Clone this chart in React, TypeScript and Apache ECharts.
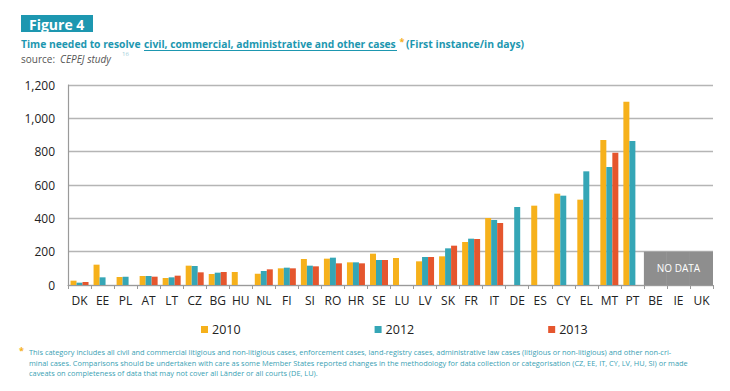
import React, { useEffect, useRef } from "react";
import * as echarts from "echarts";

const categories = ["DK","EE","PL","AT","LT","CZ","BG","HU","NL","FI","SI","RO","HR","SE","LU","LV","SK","FR","IT","DE","ES","CY","EL","MT","PT","BE","IE","UK"];
const v2010 = [26,122,48,54,42,116,66,78,68,100,156,158,136,188,162,142,172,258,402,null,476,548,512,870,1100,null,null,null];
const v2012 = [14,46,50,54,46,114,74,null,84,104,116,164,136,150,null,168,220,278,390,468,null,536,682,708,864,null,null,null];
const v2013 = [18,null,null,50,56,76,78,null,94,100,112,130,130,150,null,168,236,276,372,null,null,null,null,794,null,null,null,null];
const noDataCountries = ["BE","IE","UK"];
const noDataHeight = 200;
const yTicks = { min: 0, max: 1200, interval: 200 };

const footnoteLines = [
  "This category includes all civil and commercial litigious and non-litigious cases, enforcement cases, land-registry cases, administrative law cases (litigious or non-litigious) and other non-cri-",
  "minal cases. Comparisons should be undertaken with care as some Member States reported changes in the methodology for data collection or categorisation (CZ, EE, IT, CY, LV, HU, SI) or made",
  "caveats on completeness of data that may not cover all Länder or all courts (DE, LU).",
];

const YELLOW = "#f6b11b";
const TEAL = "#35a6b6";
const RED = "#e5562e";
const HEAD = "#1d97b0";
const FONT = "'Open Sans', 'DejaVu Sans', sans-serif";

export default function App() {
  const ref = useRef<HTMLDivElement>(null);
  useEffect(() => {
    if (!ref.current) return;
    const chart = echarts.init(ref.current, undefined, { renderer: "svg" });
    const midNo = noDataCountries[Math.floor(noDataCountries.length / 2)];
    const noData = categories.map((c) =>
      noDataCountries.includes(c)
        ? c === midNo
          ? { value: noDataHeight, label: { show: true, position: "inside", formatter: "NO DATA", color: "#fff", fontSize: 10, fontFamily: FONT } }
          : noDataHeight
        : null
    );
    const barCommon = { type: "bar", barWidth: 6, barGap: "0%", xAxisIndex: 0 };
    chart.setOption({
      animation: false,
      textStyle: { fontFamily: FONT },
      grid: { left: 68, right: 17, top: 85, bottom: 106, containLabel: false },
      legend: {
        data: ["2010", "2012", "2013"],
        left: 196,
        top: 318,
        itemWidth: 7,
        itemHeight: 7,
        itemGap: 134,
        icon: "rect",
        textStyle: { fontSize: 12.5, color: "#222", fontFamily: FONT, padding: [0, 0, 0, -1] },
      },
      xAxis: [
        {
          type: "category",
          data: categories,
          axisLine: { lineStyle: { color: "#9a9a9a", width: 1.2 } },
          axisTick: { show: true, length: 4, lineStyle: { color: "#9a9a9a" } },
          axisLabel: { color: "#222", fontSize: 12, margin: 9, interval: 0 },
        },
        {
          type: "category",
          data: categories,
          show: false,
        },
      ],
      yAxis: {
        type: "value",
        min: yTicks.min,
        max: yTicks.max,
        interval: yTicks.interval,
        axisLine: { show: true, lineStyle: { color: "#9a9a9a", width: 1.2 } },
        axisTick: { show: false },
        splitLine: { lineStyle: { color: "#b5b5b5", width: 1.4 } },
        axisLabel: {
          color: "#222",
          fontSize: 12,
          margin: 13,
          formatter: (v: number) => v.toLocaleString("en-US"),
        },
      },
      series: [
        { ...barCommon, name: "2010", data: v2010, itemStyle: { color: YELLOW } },
        { ...barCommon, name: "2012", data: v2012, itemStyle: { color: TEAL } },
        { ...barCommon, name: "2013", data: v2013, itemStyle: { color: RED } },
        {
          type: "bar",
          name: "nodata",
          xAxisIndex: 1,
          barWidth: "100%",
          barCategoryGap: "0%",
          data: noData,
          itemStyle: { color: "#8e8e8e" },
          silent: true,
        },
      ],
      graphic: [
        { type: "rect", shape: { x: 21, y: 15, width: 72, height: 17 }, style: { fill: HEAD } },
        { type: "text", x: 29, y: 24, style: { text: "Figure 4", fill: "#fff", font: `bold 14px ${FONT}`, verticalAlign: "middle" } },
        { type: "text", x: 21, y: 44, scaleX: 1.03, style: { text: "Time needed to resolve", fill: HEAD, font: `bold 10px ${FONT}`, verticalAlign: "middle" } },
        { type: "text", x: 144, y: 44, scaleX: 1.03, style: { text: "civil, commercial, administrative and other cases", fill: HEAD, font: `bold 10px ${FONT}`, verticalAlign: "middle" } },
        { type: "line", shape: { x1: 144, y1: 50.5, x2: 397, y2: 50.5 }, style: { stroke: HEAD, lineWidth: 1 } },
        { type: "text", x: 399.5, y: 41, style: { text: "*", fill: YELLOW, font: `bold 9px ${FONT}`, verticalAlign: "middle" } },
        { type: "text", x: 406, y: 44, scaleX: 1.04, style: { text: "(First instance/in days)", fill: HEAD, font: `bold 10px ${FONT}`, verticalAlign: "middle" } },
        { type: "text", x: 21, y: 59, style: { text: "source: ", fill: "#555", font: `10px ${FONT}`, verticalAlign: "middle" } },
        { type: "text", x: 60, y: 59, style: { text: "CEPEJ study", fill: "#555", font: `italic 10px ${FONT}`, verticalAlign: "middle" } },
        { type: "text", x: 122, y: 54, style: { text: "16", fill: "#9ccdd8", font: `6px ${FONT}`, verticalAlign: "middle" } },
        { type: "text", x: 19, y: 350, style: { text: "*", fill: YELLOW, font: `bold 9px ${FONT}`, verticalAlign: "middle" } },
        ...footnoteLines.map((t, i) => ({
          type: "text",
          x: 29,
          y: 352 + i * 10.7,
          style: { text: t, fill: "#3a9fb4", fontSize: 7.4, fontFamily: "Open Sans", verticalAlign: "middle" },
        })),
      ],
    });
    return () => chart.dispose();
  }, []);
  return <div ref={ref} style={{ position: "absolute", left: 0, top: 0, width: 730, height: 391 }} />;
}
